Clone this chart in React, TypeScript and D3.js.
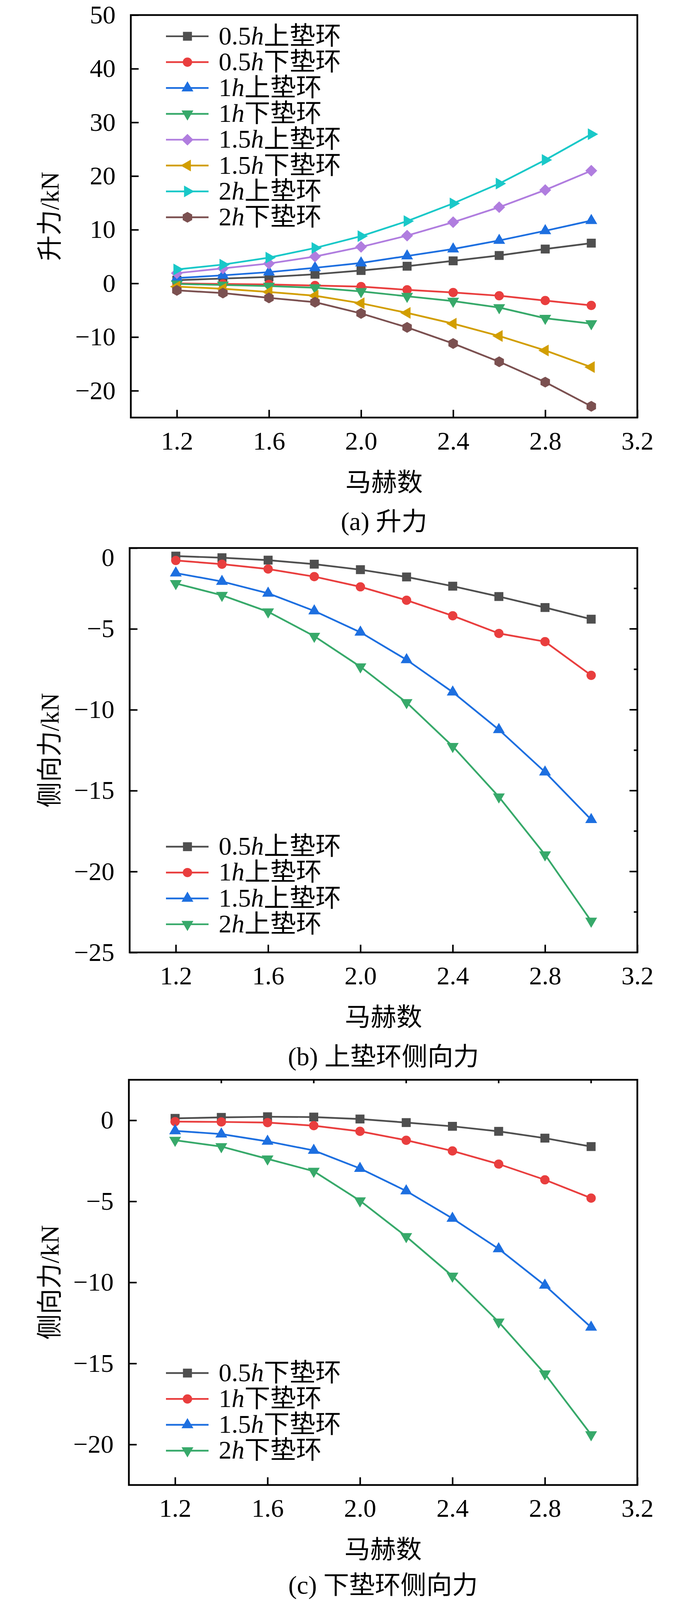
import { useEffect, useRef } from "react";
import * as d3 from "d3";

// Mach numbers shared by all three panels
const machNumbers = [1.2, 1.4, 1.6, 1.8, 2.0, 2.2, 2.4, 2.6, 2.8, 3.0];
const xTickValues = [1.2, 1.6, 2.0, 2.4, 2.8, 3.2];
const xMinorTop = [1.4, 1.8, 2.2, 2.6, 3.0];

// (a) lift, kN
const lift05Up = [0.6, 0.9, 1.2, 1.7, 2.4, 3.2, 4.2, 5.2, 6.4, 7.5];
const lift05Down = [0.0, -0.1, -0.2, -0.4, -0.6, -1.2, -1.7, -2.3, -3.2, -4.1];
const lift1Up = [1.0, 1.5, 2.1, 2.9, 3.8, 5.1, 6.4, 8.0, 9.8, 11.7];
const lift1Down = [-0.1, -0.3, -0.5, -0.8, -1.5, -2.4, -3.3, -4.5, -6.5, -7.5];
const lift15Up = [1.9, 2.8, 3.7, 5.0, 6.8, 8.9, 11.4, 14.2, 17.4, 21.0];
const lift15Down = [-0.6, -1.0, -1.6, -2.3, -3.7, -5.5, -7.5, -9.8, -12.5, -15.6];
const lift2Up = [2.6, 3.5, 4.8, 6.6, 8.8, 11.6, 14.9, 18.6, 23.0, 27.8];
const lift2Down = [-1.3, -1.8, -2.7, -3.5, -5.6, -8.2, -11.2, -14.6, -18.4, -22.9];

// (b) side force on upper rings, kN
const side05Up = [-0.5, -0.6, -0.75, -1.0, -1.34, -1.79, -2.36, -3.0, -3.68, -4.4];
const side1Up = [-0.77, -1.0, -1.3, -1.77, -2.4, -3.23, -4.19, -5.28, -5.79, -7.87];
const side15Up = [-1.55, -2.07, -2.8, -3.89, -5.21, -6.91, -8.91, -11.23, -13.85, -16.79];
const side2Up = [-2.19, -2.92, -3.94, -5.45, -7.34, -9.55, -12.26, -15.38, -18.96, -23.06];

// (c) side force on lower rings, kN
const side05Down = [0.12, 0.18, 0.22, 0.2, 0.08, -0.14, -0.37, -0.68, -1.1, -1.62];
const side1Down = [-0.08, -0.1, -0.14, -0.33, -0.68, -1.23, -1.89, -2.7, -3.67, -4.8];
const side15Down = [-0.65, -0.85, -1.3, -1.86, -2.97, -4.36, -6.05, -7.93, -10.18, -12.77];
const side2Down = [-1.23, -1.62, -2.38, -3.14, -4.96, -7.17, -9.61, -12.44, -15.64, -19.39];

const heightsA = ["0.5", "0.5", "1", "1", "1.5", "1.5", "2", "2"];
const ringsA = ["上垫环", "下垫环", "上垫环", "下垫环", "上垫环", "下垫环", "上垫环", "下垫环"];
const heightsBC = ["0.5", "1", "1.5", "2"];

const liftTicks = [-20, -10, 0, 10, 20, 30, 40, 50];
const sideUpTicks = [-25, -20, -15, -10, -5, 0];
const sideUpRightMajor = [-5, -10, -15, -20];
const sideUpRightMinor = [-2.5, -7.5, -12.5, -17.5, -22.5];
const sideDownTicks = [-20, -15, -10, -5, 0];

const W = 1772;
const H = 4146;
const RIGHT = 1632;
const FONT = "'Liberation Serif', 'Times New Roman', 'Noto Sans CJK SC', serif";

type Marker = "square" | "circle" | "up" | "down" | "diamond" | "left" | "right" | "hexagon";

interface Series {
  values: number[];
  color: string;
  marker: Marker;
  height: string;
  ring: string;
}

interface Panel {
  top: number;
  bottom: number;
  left: number;
  yDomain: [number, number];
  yTicks: number[];
  rightMajor?: number[];
  rightMinor?: number[];
  topMinor?: number[];
  series: Series[];
  legendTop: number;
  yTitle: string;
  caption: string;
  captionY: number;
}

const COLORS = {
  gray: "#4f4f4f",
  red: "#e93e3e",
  blue: "#1d6fe0",
  green: "#37a96a",
  purple: "#b07ddf",
  gold: "#d29e00",
  cyan: "#19c8c8",
  brown: "#7b5050",
};

const markersA: Marker[] = ["square", "circle", "up", "down", "diamond", "left", "right", "hexagon"];
const colorsA = [COLORS.gray, COLORS.red, COLORS.blue, COLORS.green, COLORS.purple, COLORS.gold, COLORS.cyan, COLORS.brown];
const colorsBC = [COLORS.gray, COLORS.red, COLORS.blue, COLORS.green];

const liftSeries = [lift05Up, lift05Down, lift1Up, lift1Down, lift15Up, lift15Down, lift2Up, lift2Down];

const panels: Panel[] = [
  {
    top: 39,
    bottom: 1082,
    left: 335,
    yDomain: [-25, 50],
    yTicks: liftTicks,
    series: liftSeries.map((v, i) => ({
      values: v,
      color: colorsA[i],
      marker: markersA[i],
      height: heightsA[i],
      ring: ringsA[i],
    })),
    legendTop: 94,
    yTitle: "升力/kN",
    caption: "(a) 升力",
    captionY: 1374,
  },
  {
    top: 1420,
    bottom: 2468,
    left: 332,
    yDomain: [-25, 0],
    yTicks: sideUpTicks,
    rightMajor: sideUpRightMajor,
    rightMinor: sideUpRightMinor,
    series: [side05Up, side1Up, side15Up, side2Up].map((v, i) => ({
      values: v,
      color: colorsBC[i],
      marker: markersA[i],
      height: heightsBC[i],
      ring: "上垫环",
    })),
    legendTop: 2194,
    yTitle: "侧向力/kN",
    caption: "(b) 上垫环侧向力",
    captionY: 2760,
  },
  {
    top: 2798,
    bottom: 3848,
    left: 330,
    yDomain: [-22.5, 2.5],
    yTicks: sideDownTicks,
    topMinor: xMinorTop,
    series: [side05Down, side1Down, side15Down, side2Down].map((v, i) => ({
      values: v,
      color: colorsBC[i],
      marker: markersA[i],
      height: heightsBC[i],
      ring: "下垫环",
    })),
    legendTop: 3558,
    yTitle: "侧向力/kN",
    caption: "(c) 下垫环侧向力",
    captionY: 4130,
  },
];

function markerShape(kind: Marker): { d: string; rotate: number } {
  if (kind === "hexagon") {
    const r = 14;
    const pts = d3.range(6).map((k) => {
      const a = ((-90 + k * 60) * Math.PI) / 180;
      return [r * Math.cos(a), r * Math.sin(a)] as [number, number];
    });
    return { d: d3.line()(pts)! + "Z", rotate: 0 };
  }
  if (kind === "square") return { d: d3.symbol(d3.symbolSquare, 529)()!, rotate: 0 };
  if (kind === "circle") return { d: d3.symbol(d3.symbolCircle, 452)()!, rotate: 0 };
  if (kind === "diamond") return { d: d3.symbol(d3.symbolSquare, 460)()!, rotate: 45 };
  const tri = d3.symbol(d3.symbolTriangle, 400)()!;
  const rot = { up: 0, down: 180, left: -90, right: 90 }[kind];
  return { d: tri, rotate: rot };
}

const fmt = (v: number) => (v < 0 ? "\u2212" + Math.abs(v) : String(v));

function drawPanel(svg: d3.Selection<SVGSVGElement, unknown, null, undefined>, p: Panel) {
  const x = d3.scaleLinear().domain([1.0, 3.2]).range([p.left, RIGHT]);
  const y = d3.scaleLinear().domain(p.yDomain).range([p.bottom, p.top]);
  const g = svg.append("g");

  // left axis (ticks inward)
  const yAxis = g
    .append("g")
    .attr("transform", `translate(${p.left},0)`)
    .call(d3.axisLeft(y).tickValues(p.yTicks).tickSize(-20).tickPadding(39).tickFormat((d) => fmt(+d)));
  // bottom axis (ticks inward)
  const xAxis = g
    .append("g")
    .attr("transform", `translate(0,${p.bottom})`)
    .call(d3.axisBottom(x).tickValues(xTickValues).tickSize(-20).tickPadding(36).tickFormat(d3.format(".1f")));

  [yAxis, xAxis].forEach((ax) => {
    ax.select(".domain").remove();
    ax.selectAll("line").attr("stroke", "#000").attr("stroke-width", 4);
    ax.selectAll("text").attr("font-family", FONT).attr("font-size", 66).attr("fill", "#000");
  });
  // the 0 label sits lower when 0 is the top edge
  if (p.yDomain[1] === 0) {
    yAxis.selectAll<SVGTextElement, number>("text").filter((d) => d === 0).attr("dy", "0.7em");
  }

  if (p.rightMajor) {
    g.append("g")
      .selectAll("line")
      .data(p.rightMajor)
      .join("line")
      .attr("x1", RIGHT)
      .attr("x2", RIGHT - 20)
      .attr("y1", (d) => y(d))
      .attr("y2", (d) => y(d))
      .attr("stroke", "#000")
      .attr("stroke-width", 4);
  }
  if (p.rightMinor) {
    g.append("g")
      .selectAll("line")
      .data(p.rightMinor)
      .join("line")
      .attr("x1", RIGHT)
      .attr("x2", RIGHT - 9)
      .attr("y1", (d) => y(d))
      .attr("y2", (d) => y(d))
      .attr("stroke", "#000")
      .attr("stroke-width", 4);
  }
  if (p.topMinor) {
    g.append("g")
      .selectAll("line")
      .data(p.topMinor)
      .join("line")
      .attr("x1", (d) => x(d))
      .attr("x2", (d) => x(d))
      .attr("y1", p.top)
      .attr("y2", p.top + 9)
      .attr("stroke", "#000")
      .attr("stroke-width", 4);
  }

  // frame
  g.append("rect")
    .attr("x", p.left)
    .attr("y", p.top)
    .attr("width", RIGHT - p.left)
    .attr("height", p.bottom - p.top)
    .attr("fill", "none")
    .attr("stroke", "#000")
    .attr("stroke-width", 4.5);

  const line = d3
    .line<number>()
    .x((_, i) => x(machNumbers[i]))
    .y((d) => y(d));

  p.series.forEach((s) => {
    const shape = markerShape(s.marker);
    g.append("path")
      .attr("d", line(s.values))
      .attr("fill", "none")
      .attr("stroke", s.color)
      .attr("stroke-width", 4.5);
    g.append("g")
      .selectAll("path")
      .data(s.values)
      .join("path")
      .attr("d", shape.d)
      .attr("transform", (d, i) => `translate(${x(machNumbers[i])},${y(d)}) rotate(${shape.rotate})`)
      .attr("fill", s.color);
  });

  // legend
  const rowGap = 67;
  p.series.forEach((s, i) => {
    const cy = p.legendTop + i * rowGap;
    const shape = markerShape(s.marker);
    g.append("line")
      .attr("x1", 425)
      .attr("x2", 534)
      .attr("y1", cy)
      .attr("y2", cy)
      .attr("stroke", s.color)
      .attr("stroke-width", 4.5);
    g.append("path")
      .attr("d", shape.d)
      .attr("transform", `translate(480,${cy}) rotate(${shape.rotate})`)
      .attr("fill", s.color);
    const t = g
      .append("text")
      .attr("x", 560)
      .attr("y", cy + 21)
      .attr("font-family", FONT)
      .attr("font-size", 66)
      .attr("fill", "#000");
    t.append("tspan").text(s.height);
    t.append("tspan").attr("font-style", "italic").text("h");
    t.append("tspan").text(s.ring);
  });

  // axis titles and caption
  g.append("text")
    .attr("transform", `translate(150,${(p.top + p.bottom) / 2}) rotate(-90)`)
    .attr("text-anchor", "middle")
    .attr("font-family", FONT)
    .attr("font-size", 66)
    .text(p.yTitle);
  g.append("text")
    .attr("x", (p.left + RIGHT) / 2)
    .attr("y", p.bottom + 190)
    .attr("text-anchor", "middle")
    .attr("font-family", FONT)
    .attr("font-size", 66)
    .text("马赫数");
  g.append("text")
    .attr("x", (p.left + RIGHT) / 2)
    .attr("y", p.captionY)
    .attr("text-anchor", "middle")
    .attr("font-family", FONT)
    .attr("font-size", 66)
    .text(p.caption);
}

export default function App() {
  const svgRef = useRef<SVGSVGElement>(null);
  // the visible page can be a little shorter than the figure: squeeze it vertically to fit
  const viewH = typeof window !== "undefined" && window.innerHeight ? Math.min(H, window.innerHeight) : H;

  useEffect(() => {
    if (!svgRef.current) return;
    const svg = d3.select(svgRef.current);
    svg.selectAll("*").remove();
    svg.append("rect").attr("width", W).attr("height", H).attr("fill", "#fff");
    panels.forEach((p) => drawPanel(svg, p));
  }, []);

  return (
    <svg
      ref={svgRef}
      width={W}
      height={viewH}
      viewBox={`0 0 ${W} ${H}`}
      preserveAspectRatio="none"
      style={{ position: "absolute", left: 0, top: 0, display: "block" }}
    ></svg>
  );
}
